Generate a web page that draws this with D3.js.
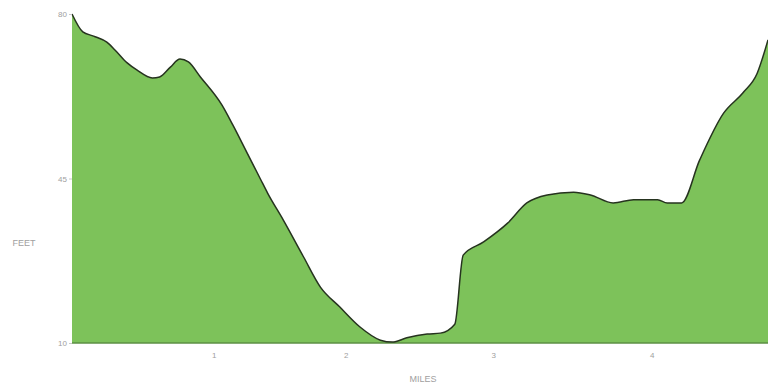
<!DOCTYPE html>
<html lang="en">
<head>
    <meta charset="UTF-8">
    <title>Elevation profile</title>
    <style>
        body { margin: 0; background: #fff; font-family: Arial, "Liberation Sans", sans-serif; }
        svg { display: block; }
        .axis text { fill: #a0a0a0; font-size: 8px; }
        .axis line { stroke: #c8c8c8; }
        .axis path { display: none; }
        .title { fill: #a0a0a0; font-size: 9px; }
    </style>
</head>
<body>
    <svg id="chart" width="768" height="387"></svg>

    <script src="https://d3js.org/d3.v7.min.js"></script>
    <script>
        // distance along the track (sample units) and elevation in feet
        const dist = [0, 0.9, 1.8, 2.9, 3.6, 4.6, 5.4, 6.7, 7.3, 8.2, 9.0, 9.7, 10.7, 12.5, 13.4,
            14.6, 15.7, 16.3, 17.6, 19.3, 20.7, 22.3, 24.0, 25.7, 26.7, 27.9, 29.6, 30.7, 31.9,
            32.6, 34.3, 36.3, 37.9, 39.6, 41.8, 43.2, 45.1, 46.8, 48.8, 49.6, 50.8, 52.3, 54.3,
            55.9, 57.1, 58];
        const elev = [80, 76.2, 75.3, 74.0, 72.3, 69.6, 68.1, 66.4, 66.6, 68.7, 70.4, 69.8, 66.6, 60.6, 56.4,
            50.4, 44.9, 41.9, 36.2, 28.3, 21.9, 17.7, 13.4, 10.6, 10.2, 11.1, 11.9, 12.1, 14.0,
            28.7, 31.5, 35.5, 39.8, 41.5, 42.1, 41.5, 39.8, 40.5, 40.5, 39.8, 39.8, 48.9, 58.9,
            63.2, 67.4, 74.5];

        // mile markers (position in sample units) and labels
        const milePos = [11.8, 22.8, 35.1, 48.3];
        const mileLabels = ["1", "2", "3", "4"];
        const feetTicks = [10, 45, 80];

        const data = dist.map((d, i) => ({ d: d, e: elev[i] }));

        const svg = d3.select("#chart");
        const margin = { left: 72, right: 0, top: 14, bottom: 44 };
        const width = +svg.attr("width");
        const height = +svg.attr("height");

        const x = d3.scaleLinear()
            .domain([0, 58])
            .range([margin.left, width - margin.right]);

        const y = d3.scaleLinear()
            .domain([10, 80])
            .range([height - margin.bottom, margin.top]);

        const area = d3.area()
            .x(d => x(d.d))
            .y0(y(10))
            .y1(d => y(d.e))
            .curve(d3.curveMonotoneX);

        const line = d3.line()
            .x(d => x(d.d))
            .y(d => y(d.e))
            .curve(d3.curveMonotoneX);

        svg.append("path")
            .datum(data)
            .attr("fill", "#7dc25a")
            .attr("d", area);

        // base line under the area
        svg.append("line")
            .attr("x1", x(0))
            .attr("x2", x(58))
            .attr("y1", y(10))
            .attr("y2", y(10))
            .attr("stroke", "#5d8f45")
            .attr("stroke-width", 1.5);

        svg.append("path")
            .datum(data)
            .attr("fill", "none")
            .attr("stroke", "#26331f")
            .attr("stroke-width", 1.5)
            .attr("d", line);

        // y axis
        svg.append("g")
            .attr("class", "axis")
            .attr("transform", `translate(${margin.left},0)`)
            .call(d3.axisLeft(y).tickValues(feetTicks).tickSize(3).tickPadding(2));

        // x axis with mile markers
        svg.append("g")
            .attr("class", "axis")
            .attr("transform", `translate(0,${y(10)})`)
            .call(d3.axisBottom(x).tickValues(milePos).tickSize(0).tickPadding(9)
                .tickFormat((d, i) => mileLabels[i]));

        svg.append("text")
            .attr("class", "title")
            .attr("x", 24)
            .attr("y", 246)
            .attr("text-anchor", "middle")
            .text("FEET");

        svg.append("text")
            .attr("class", "title")
            .attr("x", 423)
            .attr("y", 382)
            .attr("text-anchor", "middle")
            .text("MILES");
    </script>
</body>
</html>
